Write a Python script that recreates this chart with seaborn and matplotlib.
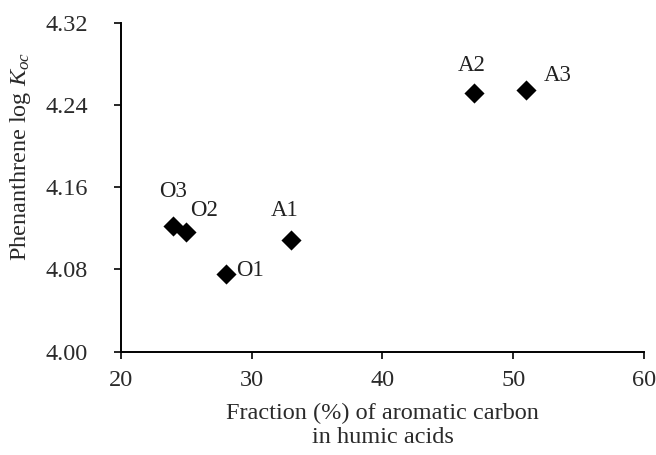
import matplotlib
matplotlib.use("Agg")
import matplotlib.pyplot as plt
import pandas as pd
import seaborn as sns

# humic acid samples
samples = ["O3", "O2", "O1", "A1", "A2", "A3"]
aromatic_c = [24, 25, 28, 33, 47, 51]
log_koc = [4.122, 4.116, 4.076, 4.109, 4.252, 4.255]

# label offsets (pixels) relative to each point
label_dx = [0, 18, 24, -6, -2, 31]
label_dy = [35, 22, 3, 29, 27, 14]

df = pd.DataFrame({"sample": samples, "x": aromatic_c, "y": log_koc})

sns.set_style("ticks")
plt.rcParams["font.family"] = "serif"
plt.rcParams["font.serif"] = ["Liberation Serif", "Times New Roman", "DejaVu Serif"]
plt.rcParams["mathtext.fontset"] = "custom"
plt.rcParams["mathtext.rm"] = "Liberation Serif"
plt.rcParams["mathtext.it"] = "Liberation Serif:italic"

fig = plt.figure(figsize=(6.56, 4.55), dpi=100)
ax = fig.add_axes([0.1845, 0.227, 0.797, 0.723])

sns.scatterplot(data=df, x="x", y="y", marker="D", s=105, color="black",
                edgecolor="black", linewidth=0, ax=ax, zorder=3)

for name, x, y, dx, dy in zip(samples, aromatic_c, log_koc, label_dx, label_dy):
    ax.annotate(name, (x, y), xytext=(dx, dy), textcoords="offset pixels",
                ha="center", va="center", fontsize=16.5, color="#222222")

ax.set_xlim(20, 60)
ax.set_ylim(4.00, 4.32)
ax.set_xticks([20, 30, 40, 50, 60])
ax.set_yticks([4.00, 4.08, 4.16, 4.24, 4.32])
ax.set_yticklabels(["4.00", "4.08", "4.16", "4.24", "4.32"])

for side in ["top", "right"]:
    ax.spines[side].set_visible(False)
for side in ["left", "bottom"]:
    ax.spines[side].set_linewidth(1.4)
    ax.spines[side].set_color("black")
ax.tick_params(direction="out", length=5, width=1.4, labelsize=17.5,
               labelcolor="#2a2a2a")
ax.tick_params(axis="x", pad=8.5)
ax.tick_params(axis="y", pad=19)

ax.set_xlabel("Fraction (%) of aromatic carbon\nin humic acids", fontsize=17.5,
              color="#2a2a2a", linespacing=1.2)
ax.xaxis.set_label_coords(0.5, -0.154)
ax.set_ylabel(r"Phenanthrene log $K_{oc}$", fontsize=17.5, color="#2a2a2a")
ax.yaxis.set_label_coords(-0.168, 0.595)

fig.savefig("out.png", dpi=100)
